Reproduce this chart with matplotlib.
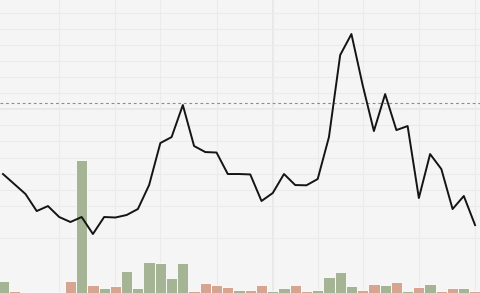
import numpy as np
import matplotlib
matplotlib.use("Agg")
import matplotlib.pyplot as plt

# weekly closes (price units) and volumes
closes = [27.95, 26.71, 25.47, 23.35, 23.97, 22.61, 21.99, 22.61, 20.50, 22.61,
          22.55, 22.86, 23.60, 26.58, 31.80, 32.54, 36.52, 31.43, 30.68, 30.62,
          27.95, 27.95, 27.90, 24.60, 25.59, 27.95, 26.58, 26.55, 27.33, 32.54,
          42.73, 45.34, 39.00, 33.29, 37.88, 33.41, 33.91, 24.97, 30.43, 28.57,
          23.60, 25.22, 21.61]
volumes = [120, 20, 10, 7, 3, 13, 120, 1330, 80, 53,
           73, 220, 53, 313, 303, 150, 303, 20, 100, 80,
           63, 30, 30, 80, 20, 53, 80, 20, 30, 157,
           207, 70, 30, 90, 77, 107, 20, 63, 90, 20,
           53, 53, 20]
reference_level = 36.8
month_ticks = [5, 10, 14, 19, 24, 28, 32, 37, 42]
price_ticks = [20, 24, 26, 28, 30, 32, 34, 36, 38, 40, 42, 44, 46, 48]

UP = "#a4b494"
DOWN = "#d5a591"

x = np.arange(len(closes))
prev = [closes[0]] + closes[:-1]
bar_colors = [UP if c >= p else DOWN for c, p in zip(closes, prev)]

fig = plt.figure(figsize=(4.8, 2.93), dpi=100)
ax = fig.add_axes([0, 0, 1, 1])
ax.set_facecolor("#f5f5f5")
ax.set_xlim(-0.267, 42.44)
ax.set_ylim(13.17, 49.57)
ax.set_xticks(month_ticks)
ax.set_yticks(price_ticks)
ax.grid(True, color="#ebebeb", linewidth=0.8)
ax.axhline(36, color="#e7e7e7", linewidth=1.3, zorder=0.9)
ax.axvline(24, color="#e7e7e7", linewidth=1.3, zorder=0.9)
ax.axhline(reference_level, color="#8c8c8c", linewidth=0.8,
           linestyle=(0, (2.5, 2.5)), zorder=2)

# volume bars sit under the price line
ax_vol = ax.twinx()
ax_vol.bar(x, volumes, width=1.0, color=bar_colors, edgecolor="white", linewidth=0.6)
ax_vol.set_ylim(0, 2930)

ax_line = ax.twinx()
ax_line.plot(x, closes, color="#141414", linewidth=1.4)
ax_line.set_ylim(ax.get_ylim())
ax_line.set_xlim(ax.get_xlim())

for a in (ax, ax_vol, ax_line):
    a.tick_params(left=False, right=False, bottom=False, top=False,
                  labelleft=False, labelright=False, labelbottom=False)
    for s in a.spines.values():
        s.set_visible(False)

fig.savefig("out.png", dpi=100)
plt.close(fig)
